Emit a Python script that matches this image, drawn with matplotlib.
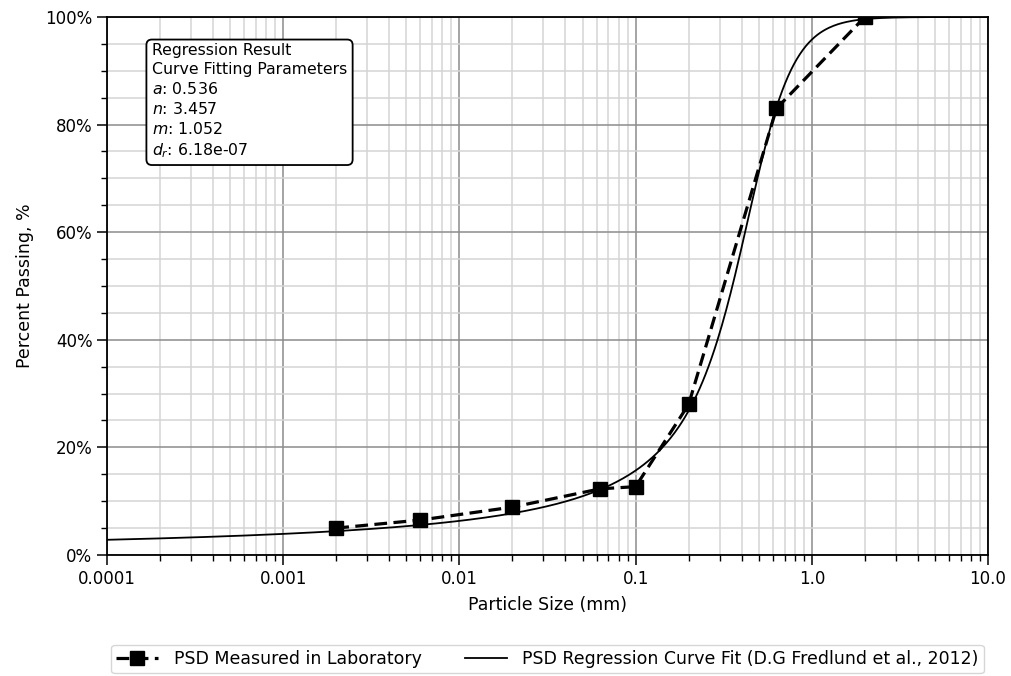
import numpy as np
import matplotlib as mpl
mpl.use("Agg")
import matplotlib.pyplot as plt
from matplotlib.ticker import FixedLocator, FixedFormatter, MultipleLocator, PercentFormatter, LogLocator, NullFormatter

plt.rcParams['font.family'] = ['DejaVu Sans']

# laboratory sieve / hydrometer results
size_mm = [0.002, 0.006, 0.02, 0.063, 0.1, 0.2, 0.63, 2.0]
passing = [5.0, 6.5, 8.9, 12.3, 12.7, 28.0, 83.0, 100.0]

# Fredlund et al. fitted parameters
a_fit = 0.536
n_fit = 3.457
m_fit = 1.052
dr_fit = 6.18e-07
dm = 1e-6  # minimum particle size (mm)

xticks = [0.0001, 0.001, 0.01, 0.1, 1.0, 10.0]
xtick_labels = ['0.0001', '0.001', '0.01', '0.1', '1.0', '10.0']


def fredlund(d, a, n, m, dr):
    p = 1.0 / np.log(np.e + (a / d) ** n) ** m
    res = 1.0 - (np.log(1 + dr / d) / np.log(1 + dr / dm)) ** 7
    return 100.0 * p * res


d = np.logspace(-4, 1, 600)
fit = fredlund(d, a_fit, n_fit, m_fit, dr_fit)

fig = plt.figure(figsize=(10.11, 6.76), dpi=100)
ax = fig.add_axes([0.1058, 0.179, 0.8715, 0.7959])

ax.plot(size_mm, passing, '--s', color='black', lw=2.3, ms=10, dashes=(4, 2),
        label='PSD Measured in Laboratory', zorder=4)
ax.plot(d, fit, '-', color='black', lw=1.3, label='PSD Regression Curve Fit (D.G Fredlund et al., 2012)', zorder=3)

ax.set_xscale('log')
ax.set_xlim(1e-4, 10)
ax.set_ylim(0, 100)
ax.xaxis.set_major_locator(FixedLocator(xticks))
ax.xaxis.set_major_formatter(FixedFormatter(xtick_labels))
ax.xaxis.set_minor_locator(LogLocator(base=10, subs=np.arange(2, 10), numticks=20))
ax.xaxis.set_minor_formatter(NullFormatter())
ax.yaxis.set_major_locator(MultipleLocator(20))
ax.yaxis.set_minor_locator(MultipleLocator(5))
ax.yaxis.set_major_formatter(PercentFormatter(decimals=0))

ax.grid(True, which='major', color='#8c8c8c', lw=1.1)
ax.grid(True, which='minor', color='#d4d4d4', lw=1.1)
ax.set_axisbelow(True)
ax.tick_params(which='major', length=7, width=1.1, labelsize=12, color='black')
ax.tick_params(which='minor', length=4, width=1, color='black')
for s in ax.spines.values():
    s.set_color('black')
    s.set_linewidth(1.3)

ax.set_xlabel('Particle Size (mm)', fontsize=12.5, labelpad=6)
ax.set_ylabel('Percent Passing, %', fontsize=12.5, labelpad=8)

info = ('Regression Result\nCurve Fitting Parameters\n'
        '$a$: %.3f\n$n$: %.3f\n$m$: %.3f\n$d_r$: %.2e' % (a_fit, n_fit, m_fit, dr_fit))
ax.text(0.051, 0.951, info, transform=ax.transAxes, fontsize=11.3, va='top', ha='left',
        linespacing=1.3,
        bbox=dict(boxstyle='round,pad=0.35', fc='white', ec='black', lw=1.3))

leg = fig.legend(loc='upper center', bbox_to_anchor=(0.5415, 0.046), ncol=2, fontsize=12.5,
                 handlelength=2.4, handletextpad=0.9, columnspacing=2.5, borderpad=0.3,
                 frameon=True, fancybox=True, borderaxespad=0)
leg.get_frame().set_edgecolor('#cccccc')

fig.savefig('out.png', dpi=100)
